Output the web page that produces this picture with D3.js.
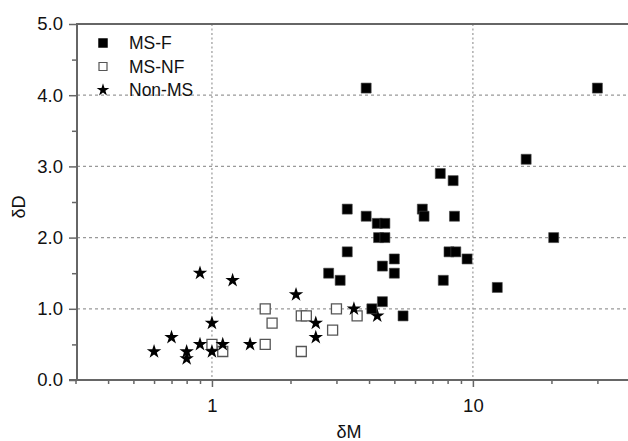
<!DOCTYPE html>
<html>
<head>
<meta charset="utf-8">
<script src="https://cdn.jsdelivr.net/npm/d3@7"></script>
<style>
  body { margin: 0; background: #fff; }
  text { font-family: "Liberation Sans", Arial, sans-serif; fill: #111; }
</style>
</head>
<body>
<div id="chart"></div>
<script>
// MS-F (filled squares)
var msfM = [3.9, 30, 16, 7.5, 8.4, 3.3, 6.4, 3.9, 6.5, 8.5, 4.3, 4.6, 4.35, 4.6, 20.4, 3.3, 8.1, 8.6, 5.0, 9.5, 4.5, 2.8, 5.0, 3.1, 7.7, 12.4, 4.5, 4.1, 5.4]
var msfD = [4.1, 4.1, 3.1, 2.9, 2.8, 2.4, 2.4, 2.3, 2.3, 2.3, 2.2, 2.2, 2.0, 2.0, 2.0, 1.8, 1.8, 1.8, 1.7, 1.7, 1.6, 1.5, 1.5, 1.4, 1.4, 1.3, 1.1, 1.0, 0.9]
// MS-NF (open squares)
var msnfM = [1.0, 1.1, 1.6, 1.7, 1.6, 2.2, 2.3, 2.2, 2.9, 3.0, 3.6]
var msnfD = [0.5, 0.4, 1.0, 0.8, 0.5, 0.9, 0.9, 0.4, 0.7, 1.0, 0.9]
// Non-MS (stars)
var nonM = [0.6, 0.7, 0.8, 0.8, 0.9, 0.9, 1.0, 1.0, 1.1, 1.2, 1.4, 2.1, 2.5, 2.5, 3.5, 4.3]
var nonD = [0.4, 0.6, 0.4, 0.3, 1.5, 0.5, 0.8, 0.4, 0.5, 1.4, 0.5, 1.2, 0.8, 0.6, 1.0, 0.9]

var yTicks = [0, 1, 2, 3, 4, 5]
var yMinor = [0.5, 1.5, 2.5, 3.5, 4.5]
var xMajor = [1, 10]
var xMinor = [0.3, 0.4, 0.5, 0.6, 0.7, 0.8, 0.9, 2, 3, 4, 5, 6, 7, 8, 9, 20, 30]
var legendNames = ["MS-F", "MS-NF", "Non-MS"]

var W = 628, H = 441
var margin = { left: 77, top: 24 }

var svg = d3.select("#chart").append("svg")
    .attr("width", W)
    .attr("height", H)

var x = d3.scaleLog()
    .domain([0.3, 40])
    .range([margin.left - 1.5, 630])

var y = d3.scaleLinear()
    .domain([0, 5])
    .range([380, margin.top])

var axisColor = "#666"

// grid
var grid = svg.append("g")
grid.selectAll("line.hgrid")
    .data(yTicks.slice(1, 5))
    .enter().append("line")
        .attr("class", "hgrid")
        .attr("x1", margin.left)
        .attr("x2", W)
        .attr("y1", d => y(d))
        .attr("y2", d => y(d))
        .attr("stroke", "#999")
        .attr("stroke-width", 1.2)
        .attr("stroke-dasharray", "3,3")

grid.selectAll("line.vgrid")
    .data(xMajor)
    .enter().append("line")
        .attr("class", "vgrid")
        .attr("x1", d => x(d))
        .attr("x2", d => x(d))
        .attr("y1", y(5))
        .attr("y2", y(0))
        .attr("stroke", "#999")
        .attr("stroke-width", 1.2)
        .attr("stroke-dasharray", "2,2.5")

// top frame
svg.append("line")
    .attr("x1", margin.left)
    .attr("x2", W)
    .attr("y1", y(5))
    .attr("y2", y(5))
    .attr("stroke", axisColor)
    .attr("stroke-width", 2)

// x axis
var xAxis = svg.append("g")
    .attr("transform", "translate(0," + y(0) + ")")
    .call(d3.axisBottom(x).tickValues(xMajor).tickFormat(d3.format("d")).tickSize(7).tickPadding(12))
xAxis.append("g")
    .call(d3.axisBottom(x).tickValues(xMinor).tickFormat("").tickSize(4))
xAxis.selectAll(".domain").remove()
xAxis.append("line")
    .attr("x1", margin.left - 8)
    .attr("x2", W)
    .attr("stroke", axisColor)
    .attr("stroke-width", 2)

// y axis
var yAxis = svg.append("g")
    .attr("transform", "translate(" + margin.left + ",0)")
    .call(d3.axisLeft(y).tickValues(yTicks).tickFormat(d3.format(".1f")).tickSize(8).tickPadding(6))
yAxis.append("g")
    .call(d3.axisLeft(y).tickValues(yMinor).tickFormat("").tickSize(5))
yAxis.selectAll(".domain").remove()
yAxis.append("line")
    .attr("y1", y(0) + 1)
    .attr("y2", y(5) - 1)
    .attr("stroke", axisColor)
    .attr("stroke-width", 2)

svg.selectAll(".tick line").attr("stroke", axisColor).attr("stroke-width", 1.5)
svg.selectAll(".tick text")
    .attr("font-size", 18.5)
    .attr("font-family", "Liberation Sans, Arial, sans-serif")
    .attr("fill", "#111")

// axis labels
svg.append("text")
    .attr("x", 349)
    .attr("y", 438)
    .attr("text-anchor", "middle")
    .attr("font-size", 18)
    .text("δM")

svg.append("text")
    .attr("transform", "translate(25,207) rotate(-90)")
    .attr("text-anchor", "middle")
    .attr("font-size", 18)
    .text("δD")

// points
var sq = d3.symbol().type(d3.symbolSquare).size(100)
var star = d3.symbol().type(d3.symbolStar).size(65)

function pts(ms, ds){ return ms.map((m, i) => ({ m: m, d: ds[i] })) }

svg.append("g").selectAll("path")
    .data(pts(msnfM, msnfD))
    .enter().append("path")
        .attr("d", sq)
        .attr("transform", d => "translate(" + x(d.m) + "," + y(d.d) + ")")
        .attr("fill", "#fff")
        .attr("stroke", "#555")
        .attr("stroke-width", 1.3)

svg.append("g").selectAll("path")
    .data(pts(nonM, nonD))
    .enter().append("path")
        .attr("d", star)
        .attr("transform", d => "translate(" + x(d.m) + "," + y(d.d) + ")")
        .attr("fill", "#000")

svg.append("g").selectAll("path")
    .data(pts(msfM, msfD))
    .enter().append("path")
        .attr("d", sq)
        .attr("transform", d => "translate(" + x(d.m) + "," + y(d.d) + ")")
        .attr("fill", "#000")
        .attr("stroke", "#444")
        .attr("stroke-width", 0.6)

// legend
var legend = svg.append("g").attr("transform", "translate(103,43)")
var items = legend.selectAll("g")
    .data(legendNames)
    .enter().append("g")
        .attr("transform", (d, i) => "translate(0," + (i * 23.5) + ")")

items.append("path")
    .attr("d", (d, i) => i == 2 ? d3.symbol().type(d3.symbolStar).size(50)() : d3.symbol().type(d3.symbolSquare).size(i == 0 ? 90 : 64)())
    .attr("fill", (d, i) => i == 1 ? "#fff" : "#000")
    .attr("stroke", (d, i) => i == 1 ? "#555" : "none")
    .attr("stroke-width", 1.2)

items.append("text")
    .attr("x", 26)
    .attr("y", 0)
    .attr("dy", "0.36em")
    .attr("font-size", 17.5)
    .text(d => d)
</script>
</body>
</html>
